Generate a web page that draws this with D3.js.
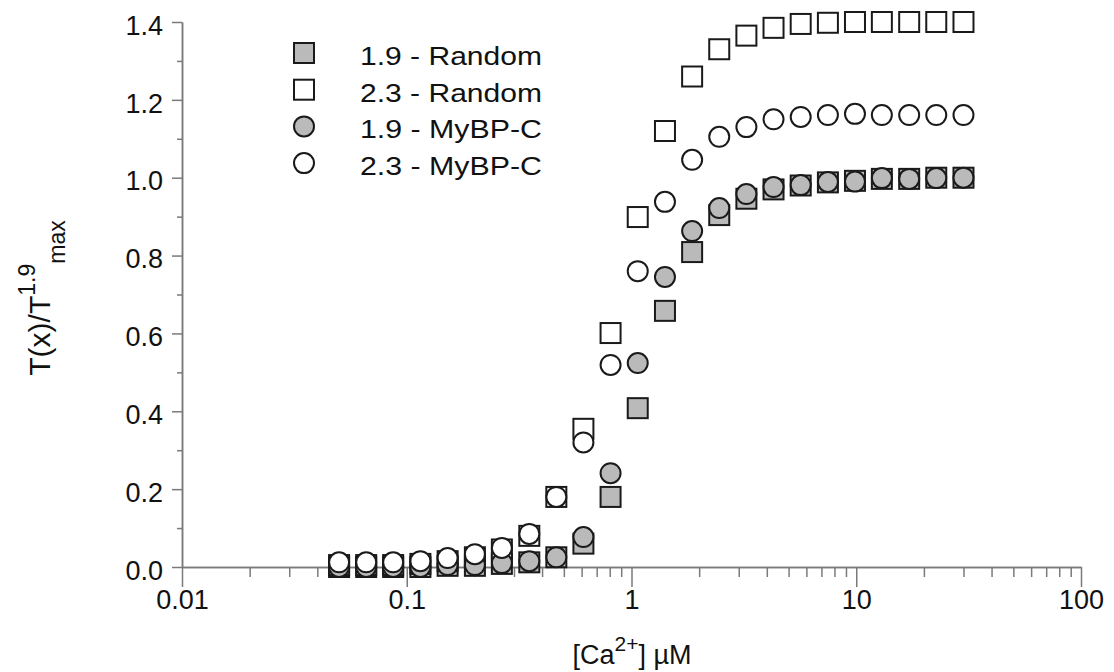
<!DOCTYPE html>
<html>
<head>
<meta charset="utf-8">
<script src="https://cdn.jsdelivr.net/npm/d3@7"></script>
<style>
  body { margin: 0; background: #fff; }
  svg { display: block; font-family: "Liberation Sans", Arial, Helvetica, sans-serif; }
  .axis path, .axis line { stroke: #7a7a7a; stroke-width: 1.5; }
  .axis text { fill: #111; font-size: 27px; font-family: "Liberation Sans", Arial, sans-serif; }
</style>
</head>
<body>
<div class="chart"></div>
<script>
// calcium concentrations (uM)
var conc = [0.050, 0.066, 0.087, 0.115, 0.152, 0.201, 0.265, 0.351, 0.463, 0.611, 0.807, 1.066,
            1.409, 1.861, 2.457, 3.245, 4.285, 5.66, 7.48, 9.87, 13.0, 17.2, 22.7, 30.0];

// normalised tension for each condition
var random19 = [0.0, 0.0, 0.0, 0.0, 0.003, 0.003, 0.008, 0.012, 0.025, 0.06, 0.18, 0.408,
                0.658, 0.809, 0.904, 0.946, 0.97, 0.98, 0.988, 0.992, 0.997, 0.997, 1.0, 1.0];
var random23 = [0.005, 0.005, 0.005, 0.008, 0.015, 0.025, 0.045, 0.08, 0.18, 0.355, 0.601, 0.899,
                1.12, 1.26, 1.33, 1.365, 1.385, 1.395, 1.398, 1.40, 1.40, 1.40, 1.40, 1.40];
var mybpc19  = [0.0, 0.0, 0.0, 0.0, 0.005, 0.005, 0.01, 0.015, 0.025, 0.077, 0.241, 0.524,
                0.745, 0.863, 0.922, 0.958, 0.976, 0.981, 0.989, 0.99, 0.999, 0.997, 0.999, 1.0];
var mybpc23  = [0.012, 0.012, 0.012, 0.015, 0.023, 0.033, 0.049, 0.085, 0.18, 0.32, 0.519, 0.76,
                0.938, 1.046, 1.105, 1.13, 1.15, 1.156, 1.161, 1.164, 1.161, 1.161, 1.161, 1.161];

var seriesNames = ["1.9 - Random", "2.3 - Random", "1.9 - MyBP-C", "2.3 - MyBP-C"];
var xTicks = [0.01, 0.1, 1, 10, 100];
var yTicks = [0, 0.2, 0.4, 0.6, 0.8, 1.0, 1.2, 1.4];
var yMinor = [0.1, 0.3, 0.5, 0.7, 0.9, 1.1, 1.3];

var width = 1114, height = 672;

var series = [
  { name: seriesNames[0], values: random19, shape: "square", fill: "#bababa" },
  { name: seriesNames[1], values: random23, shape: "square", fill: "#ffffff" },
  { name: seriesNames[2], values: mybpc19,  shape: "circle", fill: "#bababa" },
  { name: seriesNames[3], values: mybpc23,  shape: "circle", fill: "#ffffff" }
];

var svg = d3.select(".chart").append("svg").attr("width", width).attr("height", height);

var x = d3.scaleLog().domain([0.01, 100]).range([182, 1081]);
var y = d3.scaleLinear().domain([0, 1.4]).range([567, 22]);

// minor ticks on x (2..9 in each decade)
var xMinor = [];
[0.01, 0.1, 1, 10].forEach(function(d) {
  for (var k = 2; k <= 9; k++) xMinor.push(+(d * k).toPrecision(3));
});

svg.append("g").attr("class", "axis")
  .attr("transform", "translate(0,567)")
  .call(d3.axisBottom(x).tickValues(xMinor).tickSize(10).tickSizeOuter(0).tickFormat(""));

svg.append("g").attr("class", "axis")
  .attr("transform", "translate(0,567)")
  .call(d3.axisBottom(x).tickValues(xTicks).tickSize(20).tickSizeOuter(0).tickPadding(3)
    .tickFormat(function(d) { return String(d); }));

svg.append("g").attr("class", "axis")
  .attr("transform", "translate(182,0)")
  .call(d3.axisLeft(y).tickValues(yMinor).tickSize(5).tickSizeOuter(0).tickFormat(""));

var yAxis = svg.append("g").attr("class", "axis")
  .attr("transform", "translate(182,0)")
  .call(d3.axisLeft(y).tickValues(yTicks).tickSize(10).tickSizeOuter(0).tickPadding(9)
    .tickFormat(d3.format(".1f")));
yAxis.selectAll("text").attr("dy", "0.45em");

// points
function drawMarker(sel, s) {
  if (s.shape === "square") {
    sel.append("rect").attr("x", -10).attr("y", -10).attr("width", 20).attr("height", 20)
      .attr("fill", s.fill).attr("stroke", "#1a1a1a").attr("stroke-width", 2);
  } else {
    sel.append("circle").attr("r", 10)
      .attr("fill", s.fill).attr("stroke", "#1a1a1a").attr("stroke-width", 2);
  }
}

series.forEach(function(s) {
  var g = svg.append("g");
  var pts = g.selectAll("g.pt").data(s.values).enter().append("g").attr("class", "pt")
    .attr("transform", function(d, i) { return "translate(" + x(conc[i]) + "," + y(d) + ")"; });
  pts.each(function() { drawMarker(d3.select(this), s); });
});

// legend
var legend = svg.append("g");
series.forEach(function(s, i) {
  var row = legend.append("g").attr("transform", "translate(304," + (53 + i * 36.7) + ")");
  drawMarker(row, s);
  row.append("text").attr("x", 56).attr("y", 12)
    .attr("font-size", 25).attr("fill", "#111")
    .attr("textLength", 182).attr("lengthAdjust", "spacingAndGlyphs")
    .text(s.name);
});

// axis titles
var xt = svg.append("text").attr("x", 632).attr("y", 664)
  .attr("text-anchor", "middle").attr("font-size", 27).attr("fill", "#111");
xt.append("tspan").text("[Ca");
xt.append("tspan").attr("font-size", 21).attr("dy", -13).text("2+");
xt.append("tspan").attr("dy", 13).text("] \u00b5M");

var yt = svg.append("text").attr("transform", "translate(50,298) rotate(-90)")
  .attr("text-anchor", "middle").attr("font-size", 30).attr("fill", "#111");
yt.append("tspan").text("T(x)/T");
yt.append("tspan").attr("font-size", 23).attr("dy", -15).text("1.9");
yt.append("tspan").attr("font-size", 23).attr("dy", 30).text("max");
</script>
</body>
</html>
